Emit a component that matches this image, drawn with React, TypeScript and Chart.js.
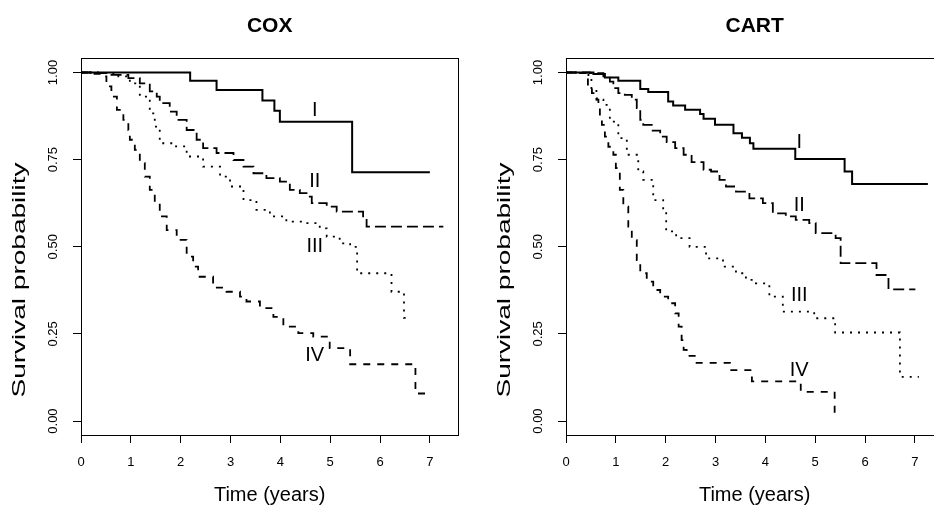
import React, { useEffect, useRef } from "react";
import { Chart, registerables } from "chart.js";

Chart.register(...registerables);

const FONT = "'Liberation Sans', Arial, Helvetica, sans-serif";
Chart.defaults.font.family = FONT;
Chart.defaults.color = "#000";

// ---------------- data ----------------
const groupNames = ["I", "II", "III", "IV"];
const xTickValues = [0, 1, 2, 3, 4, 5, 6, 7];
const yTickValues = [0, 0.25, 0.5, 0.75, 1];

// COX panel
const coxTimeI = [0, 2.19, 2.72, 3.64, 3.88, 3.99, 5.44, 7.0];
const coxSurvI = [1, 0.976, 0.95, 0.92, 0.89, 0.859, 0.714, 0.714];

const coxTimeII = [0, 0.25, 0.55, 0.95, 1.18, 1.38, 1.52, 1.58, 1.78, 1.92, 2.12, 2.32, 2.45, 2.72, 3.06, 3.26, 3.46, 3.72, 3.99, 4.19, 4.39, 4.59, 4.63, 4.93, 5.13, 5.66, 5.73, 7.27];
const coxSurvII = [1, 0.998, 0.993, 0.984, 0.969, 0.946, 0.931, 0.912, 0.888, 0.864, 0.835, 0.807, 0.783, 0.769, 0.749, 0.73, 0.711, 0.697, 0.687, 0.663, 0.654, 0.644, 0.625, 0.615, 0.601, 0.587, 0.558, 0.558];

const coxTimeIII = [0, 0.45, 0.75, 0.98, 1.18, 1.38, 1.48, 1.58, 1.85, 2.12, 2.45, 2.79, 2.99, 3.26, 3.52, 3.79, 4.12, 4.46, 4.79, 4.93, 5.19, 5.4, 5.54, 6.23, 6.48, 6.63];
const coxSurvIII = [1, 0.998, 0.989, 0.969, 0.931, 0.883, 0.845, 0.797, 0.788, 0.759, 0.73, 0.701, 0.673, 0.634, 0.606, 0.587, 0.572, 0.568, 0.553, 0.529, 0.51, 0.5, 0.424, 0.371, 0.296, 0.296];

const coxTimeIV = [0, 0.25, 0.45, 0.51, 0.61, 0.72, 0.85, 0.95, 0.98, 1.08, 1.18, 1.28, 1.38, 1.48, 1.58, 1.72, 1.92, 2.12, 2.25, 2.35, 2.65, 2.92, 3.19, 3.32, 3.59, 3.86, 4.06, 4.36, 4.66, 4.99, 5.4, 6.71, 7.0];
const coxSurvIV = [1, 0.996, 0.989, 0.96, 0.931, 0.893, 0.864, 0.835, 0.807, 0.778, 0.74, 0.701, 0.663, 0.625, 0.587, 0.548, 0.52, 0.472, 0.443, 0.414, 0.383, 0.371, 0.357, 0.343, 0.324, 0.299, 0.271, 0.252, 0.242, 0.209, 0.163, 0.079, 0.079];

const coxLabelTime = [4.69, 4.69, 4.69, 4.69];
const coxLabelSurv = [0.892, 0.687, 0.5, 0.187];

// CART panel
const cartTimeI = [0, 0.55, 0.78, 1.05, 1.49, 1.65, 2.05, 2.15, 2.39, 2.69, 2.76, 2.99, 3.36, 3.53, 3.69, 3.76, 4.6, 5.59, 5.74, 7.26];
const cartSurvI = [1, 0.996, 0.986, 0.976, 0.953, 0.944, 0.917, 0.905, 0.893, 0.881, 0.867, 0.85, 0.826, 0.813, 0.797, 0.781, 0.752, 0.716, 0.68, 0.68];

const cartTimeII = [0, 0.48, 0.75, 0.88, 0.95, 1.05, 1.18, 1.32, 1.42, 1.49, 1.55, 1.72, 1.89, 2.02, 2.19, 2.36, 2.52, 2.76, 2.91, 3.08, 3.21, 3.41, 3.68, 3.95, 4.15, 4.41, 4.61, 4.88, 5.01, 5.41, 5.51, 6.23, 6.47, 7.01];
const cartSurvII = [1, 0.998, 0.989, 0.974, 0.955, 0.941, 0.936, 0.922, 0.898, 0.864, 0.85, 0.833, 0.816, 0.8, 0.783, 0.764, 0.743, 0.721, 0.716, 0.692, 0.673, 0.658, 0.639, 0.625, 0.596, 0.587, 0.577, 0.568, 0.539, 0.525, 0.453, 0.419, 0.378, 0.378];

const cartTimeIII = [0, 0.28, 0.45, 0.51, 0.61, 0.75, 0.88, 1.05, 1.22, 1.45, 1.55, 1.75, 1.95, 2.01, 2.21, 2.48, 2.81, 3.15, 3.41, 3.61, 3.81, 4.08, 4.35, 4.98, 5.4, 6.7, 7.08];
const cartSurvIII = [1, 0.998, 0.984, 0.95, 0.922, 0.907, 0.859, 0.812, 0.764, 0.716, 0.692, 0.634, 0.601, 0.544, 0.525, 0.5, 0.467, 0.443, 0.424, 0.405, 0.395, 0.357, 0.314, 0.295, 0.254, 0.127, 0.127];

const cartTimeIV = [0, 0.28, 0.42, 0.44, 0.52, 0.62, 0.65, 0.68, 0.72, 0.78, 0.85, 0.95, 1.0, 1.08, 1.15, 1.25, 1.32, 1.42, 1.49, 1.62, 1.75, 1.89, 2.05, 2.19, 2.26, 2.32, 2.36, 2.42, 2.62, 3.29, 3.73, 4.71, 5.39];
const cartSurvIV = [1, 0.998, 0.984, 0.965, 0.941, 0.922, 0.898, 0.869, 0.85, 0.816, 0.787, 0.764, 0.726, 0.663, 0.615, 0.558, 0.519, 0.462, 0.424, 0.4, 0.376, 0.357, 0.338, 0.309, 0.271, 0.232, 0.204, 0.187, 0.167, 0.146, 0.114, 0.084, 0.022];

const cartLabelTime = [4.68, 4.68, 4.68, 4.68];
const cartLabelSurv = [0.8, 0.618, 0.36, 0.146];

// ---------------- styles ----------------
const LINE_DASH = [[], [11, 5], [2, 6], [7, 7]];
const LINE_WIDTH = [2, 1.8, 1.8, 1.8];
const X_MIN = 0;
const X_MAX = 7.57;
const Y_MIN = -0.04;
const Y_MAX = 1.0416;

function makeOverlay(labelTime: number[], labelSurv: number[], yTitle: string) {
  return {
    id: "overlay",
    afterDraw(chart: any) {
      const { ctx, chartArea: a, scales } = chart;
      const xs = scales.x;
      const ys = scales.y;
      ctx.save();
      // plot box
      ctx.strokeStyle = "#000";
      ctx.lineWidth = 1;
      ctx.setLineDash([]);
      const l = Math.round(a.left) + 0.5;
      const t = Math.round(a.top) + 0.5;
      const r = Math.round(a.right) + 0.5;
      const b = Math.round(a.bottom) + 0.5;
      ctx.strokeRect(l, t, r - l, b - t);
      // group labels
      ctx.fillStyle = "#000";
      ctx.font = `20px ${FONT}`;
      ctx.textAlign = "center";
      ctx.textBaseline = "middle";
      groupNames.forEach((name, i) => {
        ctx.fillText(name, xs.getPixelForValue(labelTime[i]), ys.getPixelForValue(labelSurv[i]));
      });
      // y axis title (rotated)
      ctx.font = `19px ${FONT}`;
      ctx.translate(20, 280);
      ctx.rotate(-Math.PI / 2);
      const w = ctx.measureText(yTitle).width;
      ctx.scale(235 / w, 1);
      ctx.fillText(yTitle, 0, 0);
      ctx.restore();
    },
  };
}

function makeConfig(title: string, times: number[][], survs: number[][], labelTime: number[], labelSurv: number[]): any {
  const datasets = times.map((tt, i) => ({
    label: groupNames[i],
    data: tt.map((x, j) => ({ x, y: survs[i][j] })),
    stepped: true,
    borderColor: "#000",
    backgroundColor: "#000",
    borderWidth: LINE_WIDTH[i],
    borderDash: LINE_DASH[i],
    pointRadius: 0,
    pointHoverRadius: 0,
    fill: false,
    tension: 0,
  }));
  const gridOpts = {
    display: true,
    drawOnChartArea: false,
    drawTicks: true,
    tickLength: 8,
    color: "#000",
    tickColor: "#000",
    lineWidth: 1,
  };
  return {
    type: "line",
    data: { datasets },
    options: {
      responsive: false,
      animation: false,
      events: [],
      layout: { padding: { left: 0, right: 26.7, top: 0, bottom: 0 } },
      plugins: {
        legend: { display: false },
        tooltip: { enabled: false },
        title: {
          display: true,
          fullSize: false,
          text: title,
          color: "#000",
          font: { size: 21, weight: "bold", family: FONT, lineHeight: 1.2 },
          padding: { top: 14, bottom: 18.8 },
        },
      },
      scales: {
        x: {
          type: "linear",
          min: X_MIN,
          max: X_MAX,
          afterFit: (s: any) => {
            s.height = 70;
          },
          afterBuildTicks: (s: any) => {
            s.ticks = xTickValues.map((v) => ({ value: v }));
          },
          ticks: {
            stepSize: 1,
            includeBounds: false,
            autoSkip: false,
            maxRotation: 0,
            padding: 12,
            color: "#000",
            font: { size: 13, family: FONT },
            callback: (v: any) => String(v),
          },
          grid: gridOpts,
          border: { display: false },
          title: {
            display: true,
            text: "Time (years)",
            color: "#000",
            font: { size: 20, family: FONT, lineHeight: 1 },
            padding: { top: 0, bottom: 0 },
          },
        },
        y: {
          type: "linear",
          min: Y_MIN,
          max: Y_MAX,
          afterFit: (s: any) => {
            s.width = 81;
          },
          afterBuildTicks: (s: any) => {
            s.ticks = yTickValues.map((v) => ({ value: v }));
          },
          ticks: {
            stepSize: 0.25,
            includeBounds: false,
            autoSkip: false,
            minRotation: 90,
            maxRotation: 90,
            crossAlign: "center",
            padding: 7,
            color: "#000",
            font: { size: 13, family: FONT },
            callback: (v: any) => Number(v).toFixed(2),
          },
          grid: gridOpts,
          border: { display: false },
        },
      },
    },
    plugins: [makeOverlay(labelTime, labelSurv, "Survival probability")],
  };
}

export default function App() {
  const leftRef = useRef<HTMLCanvasElement>(null);
  const rightRef = useRef<HTMLCanvasElement>(null);

  useEffect(() => {
    const c1 = new Chart(
      leftRef.current as HTMLCanvasElement,
      makeConfig(
        "COX",
        [coxTimeI, coxTimeII, coxTimeIII, coxTimeIV],
        [coxSurvI, coxSurvII, coxSurvIII, coxSurvIV],
        coxLabelTime,
        coxLabelSurv
      )
    );
    const c2 = new Chart(
      rightRef.current as HTMLCanvasElement,
      makeConfig(
        "CART",
        [cartTimeI, cartTimeII, cartTimeIII, cartTimeIV],
        [cartSurvI, cartSurvII, cartSurvIII, cartSurvIV],
        cartLabelTime,
        cartLabelSurv
      )
    );
    return () => {
      c1.destroy();
      c2.destroy();
    };
  }, []);

  return (
    <div
      style={{
        position: "absolute",
        left: 0,
        top: 0,
        width: 934,
        height: 505,
        overflow: "hidden",
        background: "#fff",
      }}
    >
      <canvas
        ref={leftRef}
        width={485}
        height={505}
        style={{ position: "absolute", left: 0, top: 0, width: 485, height: 505 }}
      />
      <canvas
        ref={rightRef}
        width={485}
        height={505}
        style={{ position: "absolute", left: 485, top: 0, width: 485, height: 505 }}
      />
    </div>
  );
}
